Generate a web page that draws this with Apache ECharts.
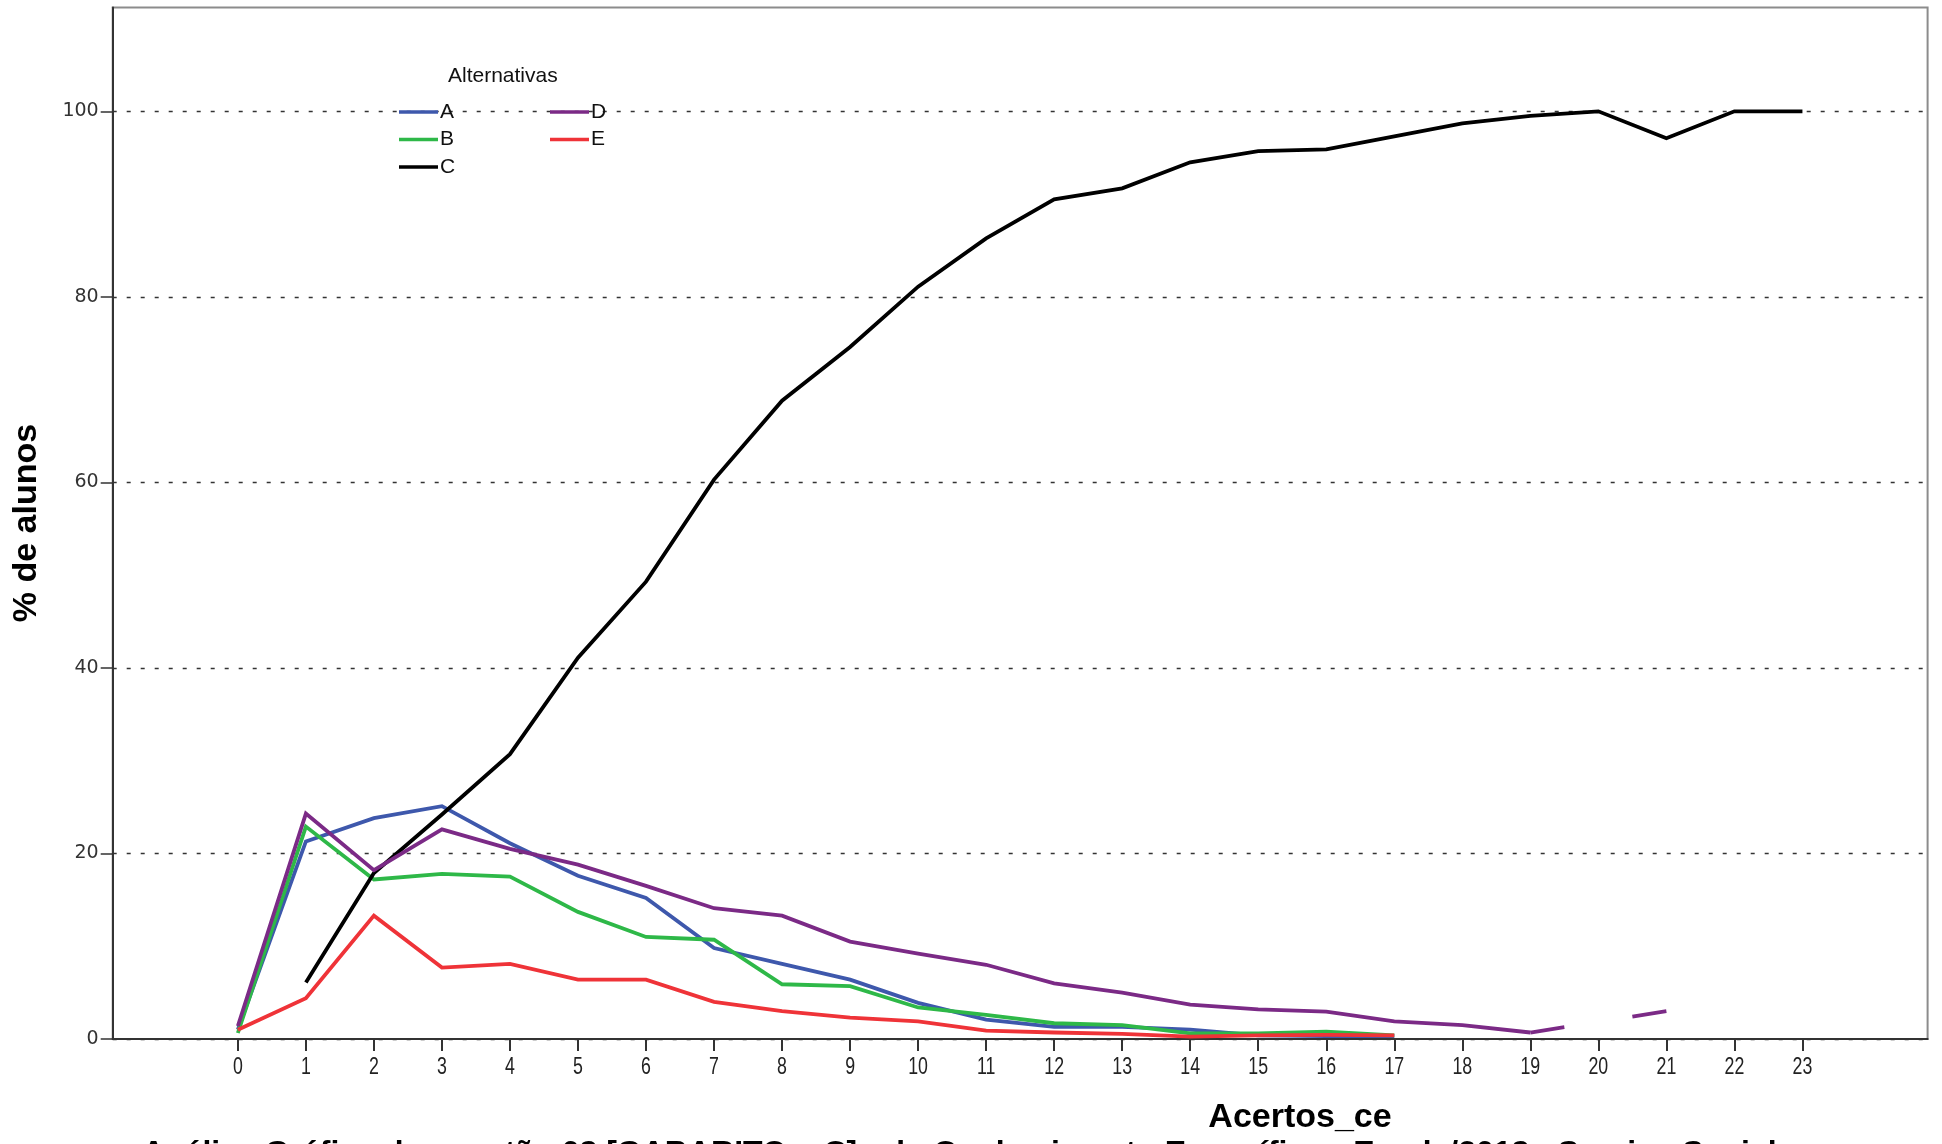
<!DOCTYPE html>
<html>
<head>
<meta charset="utf-8">
<script src="https://cdn.jsdelivr.net/npm/echarts@6/dist/echarts.min.js"></script>
<style>
html,body{margin:0;padding:0;background:#fff;}
#chart{width:1942px;height:1144px;}
</style>
</head>
<body>
<div id="chart"></div>
<script>
// ---- data ----
const acertos = [0,1,2,3,4,5,6,7,8,9,10,11,12,13,14,15,16,17,18,19,20,21,22,23];
const serieA = [1.0,21.3,23.8,25.1,21.1,17.6,15.2,9.8,8.1,6.4,3.9,2.1,1.3,1.3,1.0,0.4,0.3,0.3,null,null,null,null,null,null];
const serieB = [0.65,22.9,17.2,17.8,17.5,13.7,11.0,10.7,5.9,5.7,3.4,2.6,1.7,1.5,0.6,0.6,0.8,0.4,null,null,null,null,null,null];
const serieC = [null,6.1,17.9,24.2,30.7,41.1,49.3,60.3,68.8,74.6,81.1,86.3,90.5,91.7,94.5,95.7,95.9,97.3,98.7,99.5,100,97.1,100,100];
const serieD = [1.4,24.3,18.2,22.6,20.5,18.8,16.5,14.1,13.3,10.5,9.2,8.0,6.0,5.0,3.7,3.2,2.95,1.9,1.5,0.7,null,3.0,null,null];
const serieE = [1.0,4.4,13.3,7.7,8.1,6.4,6.4,4.0,3.0,2.3,1.9,0.9,0.7,0.55,0.25,0.4,0.45,0.4,null,null,null,null,null,null];
const yTicks = [0,20,40,60,80,100];
const xTickLabels = acertos.map(String);
const colors = {A:'#3e58ac', B:'#2eb848', C:'#000000', D:'#7b2a86', E:'#ef3338'};

const pairs = arr => acertos.map((x,i) => [x, arr[i] == null ? '-' : arr[i]]);
const LW = 3.8;

function lineSeries(name, arr){
  return {
    name: name, type:'line', data: pairs(arr),
    symbol:'none', connectNulls:false,
    lineStyle:{color: colors[name], width:LW, join:'miter'},
    itemStyle:{color: colors[name]},
    emphasis:{disabled:true}
  };
}

// gap across the missing point 20 for D: segment 19 -> 21 drawn only near its ends
const dBridge = {
  name:'D', type:'line', symbol:'none',
  data: [[acertos[19], serieD[19]], [acertos[21], serieD[21]]],
  lineStyle:{color: colors.D, width:LW, type:[10,20], cap:'butt'},
  itemStyle:{color: colors.D},
  emphasis:{disabled:true}
};

// x tick labels: narrow, tall glyphs placed with the axis scale
const xLabelSeries = {
  type:'custom', name:'xlabels', clip:false, silent:true, z:10,
  data: acertos.map((x,i) => [x, 0, i]),
  renderItem: function(params, api){
    const p = api.coord([api.value(0), 0]);
    return {
      type:'text', x:p[0], y:p[1] + 16, scaleX:0.74, scaleY:1,
      style:{text: xTickLabels[api.value(2)], font:"24px 'Liberation Sans', Arial, sans-serif", fill:'#222', textAlign:'center', textVerticalAlign:'top'}
    };
  }
};

const chart = echarts.init(document.getElementById('chart'), null, {renderer:'canvas'});
const legendText = {fontFamily:"'Liberation Sans',Arial,sans-serif", fontSize:21, lineHeight:22, color:'#111', padding:[0,0,0,-3]};
const option = {
  animation:false,
  backgroundColor:'#fff',
  grid:{left:112.7, right:14.4, top:7.4, bottom:105, show:true, borderColor:'#8c8c8c', borderWidth:2, containLabel:false},
  xAxis:{
    type:'value', min:-1.84, max:24.84,
    axisLine:{show:true, onZero:false, lineStyle:{color:'#333', width:2}},
    axisTick:{show:true, customValues: acertos, length:12, lineStyle:{color:'#333', width:2}},
    axisLabel:{show:false},
    splitLine:{show:false}
  },
  yAxis:{
    type:'value', min:0, max:111.2, interval:20,
    axisLine:{show:true, onZero:false, lineStyle:{color:'#333', width:2}},
    axisTick:{show:true, customValues: yTicks, length:12, lineStyle:{color:'#333', width:1.5}},
    axisLabel:{customValues: yTicks, fontFamily:"'DejaVu Sans',sans-serif", fontSize:19, color:'#333', margin:14},
    splitLine:{show:true, lineStyle:{color:'#333', width:1.3, type:[4,10]}}
  },
  legend:[
    {data:['A','B','C'], orient:'vertical', left:394, top:96, icon:'rect', itemWidth:39, itemHeight:3.5, itemGap:5.5,
     textStyle:legendText, selectedMode:false},
    {data:['D','E'], orient:'vertical', left:545, top:96, icon:'rect', itemWidth:39, itemHeight:3.5, itemGap:5.5,
     textStyle:legendText, selectedMode:false}
  ],
  graphic:[
    {type:'text', left:448, top:66, style:{text:'Alternativas', font:"21px 'Liberation Sans', Arial, sans-serif", fill:'#111'}},
    {type:'text', x:27, y:523, rotation:Math.PI/2, style:{text:'% de alunos', font:"bold 34px 'Liberation Sans', Arial, sans-serif", fill:'#000', textAlign:'center', textVerticalAlign:'middle'}},
    {type:'text', x:1300, y:1118, style:{text:'Acertos_ce', font:"bold 34px 'Liberation Sans', Arial, sans-serif", fill:'#000', textAlign:'center', textVerticalAlign:'middle'}},
    {type:'text', x:142, y:1154, style:{text:'Análise Gráfica da questão 08 [GABARITO = C] - do Conhecimento Específico - Enade/2018 - Serviço Social', font:"bold 32px 'Liberation Sans', Arial, sans-serif", fill:'#000', textAlign:'left', textVerticalAlign:'middle'}}
  ],
  series:[
    lineSeries('A', serieA),
    lineSeries('B', serieB),
    lineSeries('C', serieC),
    lineSeries('D', serieD),
    dBridge,
    lineSeries('E', serieE),
    xLabelSeries
  ]
};
chart.setOption(option);

// dash so that only the quarter near each end of the 19->21 segment shows
const p1 = chart.convertToPixel({xAxisIndex:0, yAxisIndex:0}, [acertos[19], serieD[19]]);
const p2 = chart.convertToPixel({xAxisIndex:0, yAxisIndex:0}, [acertos[21], serieD[21]]);
const L = Math.hypot(p2[0]-p1[0], p2[1]-p1[1]);
chart.setOption({series:[{},{},{},{},{lineStyle:{type:[L/4, L/2]}},{},{}]});
</script>
</body>
</html>
